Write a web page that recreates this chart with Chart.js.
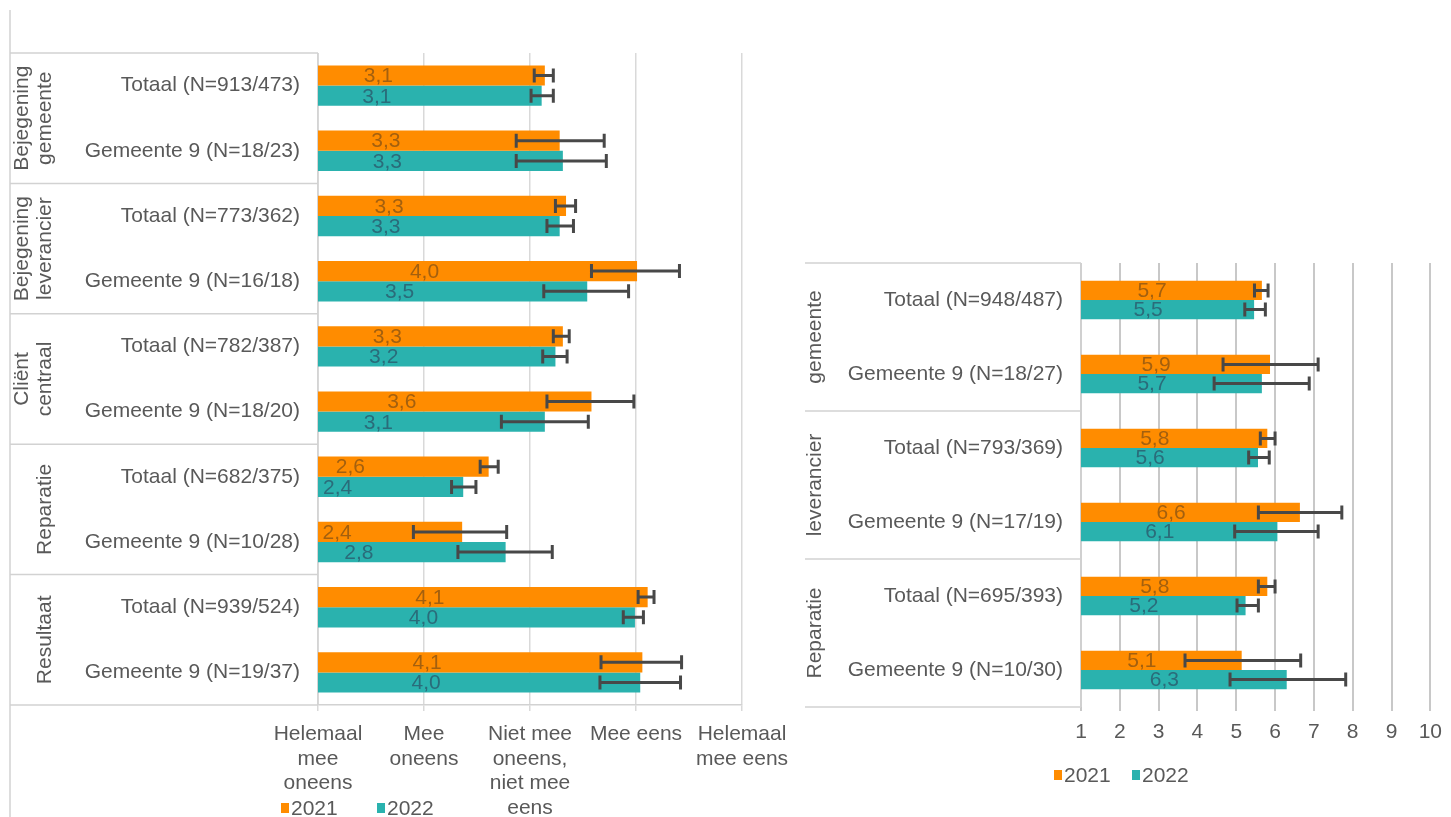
<!DOCTYPE html>
<html>
<head>
<meta charset="utf-8">
<script src="https://cdn.jsdelivr.net/npm/chart.js@4.4.1/dist/chart.umd.min.js"></script>
<style>
  body { margin: 0; background: #fff; }
  #wrap { position: relative; width: 1451px; height: 817px; overflow: hidden; }
  #left { position: absolute; left: 0; top: 0; }
  #rightBox { position: absolute; left: 805px; top: 240px; width: 646px; height: 577px; overflow: hidden; }
  #right { position: absolute; left: -60px; top: 0; }
</style>
</head>
<body>
<div id="wrap">
  <canvas id="left" width="800" height="817"></canvas>
  <div id="rightBox"><canvas id="right" width="706" height="577"></canvas></div>
</div>
<script>
// --- data: left chart (stellingen, schaal 1-5) ---
const leftCategories = [
  'Totaal (N=913/473)', 'Gemeente 9 (N=18/23)',
  'Totaal (N=773/362)', 'Gemeente 9 (N=16/18)',
  'Totaal (N=782/387)', 'Gemeente 9 (N=18/20)',
  'Totaal (N=682/375)', 'Gemeente 9 (N=10/28)',
  'Totaal (N=939/524)', 'Gemeente 9 (N=19/37)',
];
const leftGroups = [
  ['Bejegening', 'gemeente'],
  ['Bejegening', 'leverancier'],
  ['Cliënt', 'centraal'],
  ['Reparatie'],
  ['Resultaat'],
];
const leftScaleLabels = [
  ['Helemaal', 'mee', 'oneens'],
  ['Mee', 'oneens'],
  ['Niet mee', 'oneens,', 'niet mee', 'eens'],
  ['Mee eens'],
  ['Helemaal', 'mee eens'],
];
const left2021 = [3.14, 3.28, 3.34, 4.01, 3.31, 3.58, 2.61, 2.36, 4.11, 4.06];
const left2022 = [3.11, 3.31, 3.28, 3.54, 3.24, 3.14, 2.37, 2.77, 3.99, 4.04];
const left2021Low  = [3.04, 2.87, 3.24, 3.58, 3.22, 3.16, 2.53, 1.90, 4.02, 3.67];
const left2021High = [3.22, 3.70, 3.43, 4.41, 3.37, 3.98, 2.70, 2.78, 4.17, 4.43];
const left2022Low  = [3.01, 2.87, 3.16, 3.13, 3.12, 2.73, 2.26, 2.32, 3.88, 3.66];
const left2022High = [3.22, 3.72, 3.41, 3.93, 3.35, 3.55, 2.49, 3.21, 4.07, 4.42];

// --- data: right chart (rapportcijfers 1-10) ---
const rightCategories = [
  'Totaal (N=948/487)', 'Gemeente 9 (N=18/27)',
  'Totaal (N=793/369)', 'Gemeente 9 (N=17/19)',
  'Totaal (N=695/393)', 'Gemeente 9 (N=10/30)',
];
const rightGroups = [
  ['Bejegening', 'gemeente'],
  ['Bejegening', 'leverancier'],
  ['Reparatie'],
];
const right2021 = [5.66, 5.87, 5.80, 6.64, 5.80, 5.14];
const right2022 = [5.46, 5.66, 5.56, 6.06, 5.24, 6.30];
const right2021Low  = [5.47, 4.66, 5.62, 5.57, 5.57, 3.68];
const right2021High = [5.82, 7.11, 6.00, 7.72, 6.00, 6.66];
const right2022Low  = [5.22, 4.43, 5.32, 4.96, 5.02, 4.84];
const right2022High = [5.75, 6.88, 5.85, 7.11, 5.57, 7.82];

const years = ['2021', '2022'];

const C = {
  orange: '#FF8C00',
  teal: '#2AB2AE',
  orangeText: '#a4600e',
  tealText: '#2a6c7a',
  err: '#484848',
  text: '#595959',
  line: '#d2d2d2',
};
const FONT = "'Liberation Sans', Arial, sans-serif";

// table lines, rotated group labels, value labels, error bars and legend
const tablePlugin = {
  id: 'table',
  beforeDatasetsDraw(chart, args, o) {
    const ctx = chart.ctx, a = chart.chartArea;
    const n = chart.data.labels.length;
    const step = (a.bottom - a.top) / n;
    ctx.save();
    ctx.strokeStyle = C.line;
    ctx.lineWidth = 1.5;
    ctx.beginPath();
    ctx.moveTo(o.tableLeft, o.borderTop != null ? o.borderTop : a.top);
    ctx.lineTo(o.tableLeft, o.borderBottom != null ? o.borderBottom : a.bottom);
    let row = 0;
    const ys = [a.top];
    o.groups.forEach(() => { row += o.groupSize; ys.push(a.top + row * step); });
    ys.forEach(y => { ctx.moveTo(o.tableLeft, y); ctx.lineTo(a.left, y); });
    ctx.moveTo(a.left, a.top); ctx.lineTo(a.left, a.bottom);
    ctx.stroke();

    ctx.fillStyle = C.text;
    ctx.font = '21px ' + FONT;
    ctx.textAlign = 'center';
    ctx.textBaseline = 'middle';
    o.groups.forEach((g, i) => {
      const cy = a.top + (i * o.groupSize + o.groupSize / 2) * step;
      g.forEach((t, k) => {
        const x = o.tableLeft + o.lastLine - (g.length - 1 - k) * 23;
        ctx.save();
        ctx.translate(x, cy);
        ctx.rotate(-Math.PI / 2);
        ctx.fillText(t, 0, 0);
        ctx.restore();
      });
    });
    ctx.restore();
  },
  afterDatasetsDraw(chart, args, o) {
    const ctx = chart.ctx, xs = chart.scales.x;
    ctx.save();
    chart.data.datasets.forEach((ds, d) => {
      const meta = chart.getDatasetMeta(d);
      meta.data.forEach((bar, i) => {
        ctx.fillStyle = ds.labelColor;
        ctx.font = '21px ' + FONT;
        ctx.textAlign = 'center';
        ctx.textBaseline = 'middle';
        ctx.fillText(ds.data[i].toFixed(1).replace('.', ','), (bar.x + bar.base) / 2, bar.y + 1);

        const x1 = xs.getPixelForValue(ds.errLow[i]);
        const x2 = xs.getPixelForValue(ds.errHigh[i]);
        ctx.strokeStyle = C.err;
        ctx.lineWidth = 3;
        ctx.beginPath();
        ctx.moveTo(x1, bar.y); ctx.lineTo(x2, bar.y);
        ctx.moveTo(x1, bar.y - 7); ctx.lineTo(x1, bar.y + 7);
        ctx.moveTo(x2, bar.y - 7); ctx.lineTo(x2, bar.y + 7);
        ctx.stroke();
      });
      const L = o.legend[d];
      ctx.fillStyle = ds.backgroundColor;
      ctx.fillRect(L.x, L.y - 5, 8, 10);
      ctx.fillStyle = C.text;
      ctx.font = '21px ' + FONT;
      ctx.textAlign = 'left';
      ctx.textBaseline = 'middle';
      ctx.fillText(ds.label, L.x + 10, L.y + 1);
    });
    ctx.restore();
  },
};

function makeDatasets(v1, v2, lo1, hi1, lo2, hi2) {
  return [
    { label: years[0], data: v1, errLow: lo1, errHigh: hi1, backgroundColor: C.orange, labelColor: C.orangeText },
    { label: years[1], data: v2, errLow: lo2, errHigh: hi2, backgroundColor: C.teal, labelColor: C.tealText },
  ];
}

// fixed label column width, no extra label padding above/below the plot
const fixY = w => s => { s.width = w; s.paddingTop = 0; s.paddingBottom = 0; };

new Chart(document.getElementById('left'), {
  type: 'bar',
  data: {
    labels: leftCategories,
    datasets: makeDatasets(left2021, left2022, left2021Low, left2021High, left2022Low, left2022High),
  },
  plugins: [tablePlugin],
  options: {
    indexAxis: 'y',
    responsive: false,
    animation: false,
    categoryPercentage: 0.62,
    barPercentage: 1.0,
    layout: { padding: { top: 53, right: 58, left: 0, bottom: 0 } },
    plugins: {
      legend: { display: false },
      tooltip: { enabled: false },
      table: {
        tableLeft: 10, lastLine: 35, groups: leftGroups, groupSize: 2,
        borderTop: 10, borderBottom: 817,
        legend: [{ x: 281, y: 808 }, { x: 377, y: 808 }],
      },
    },
    scales: {
      x: {
        min: 1, max: 5,
        afterFit: s => { s.height = 112; },
        ticks: {
          stepSize: 1, autoSkip: false, maxRotation: 0, padding: 11,
          color: C.text, font: { family: FONT, size: 21, lineHeight: 1.17 },
          callback: v => leftScaleLabels[v - 1],
        },
        grid: { color: '#d9d9d9', lineWidth: 1.5, tickLength: 6 },
        border: { display: true, color: C.line, width: 1.5 },
      },
      y: {
        afterFit: fixY(318),
        ticks: { autoSkip: false, padding: 18, color: C.text, font: { family: FONT, size: 21 } },
        grid: { display: false, drawTicks: false },
        border: { display: false },
      },
    },
  },
});

new Chart(document.getElementById('right'), {
  type: 'bar',
  data: {
    labels: rightCategories,
    datasets: makeDatasets(right2021, right2022, right2021Low, right2021High, right2022Low, right2022High),
  },
  plugins: [tablePlugin],
  options: {
    indexAxis: 'y',
    responsive: false,
    animation: false,
    categoryPercentage: 0.52,
    barPercentage: 1.0,
    layout: { padding: { top: 23, right: 13, left: 0, bottom: 0 } },
    plugins: {
      legend: { display: false },
      tooltip: { enabled: false },
      table: {
        tableLeft: 34, lastLine: 36, groups: rightGroups, groupSize: 2,
        legend: [{ x: 309, y: 535 }, { x: 387, y: 535 }],
      },
    },
    scales: {
      x: {
        min: 1, max: 10,
        afterFit: s => { s.height = 110; },
        ticks: {
          stepSize: 1, autoSkip: false, maxRotation: 0, padding: 9,
          color: C.text, font: { family: FONT, size: 21, lineHeight: 1.17 },
        },
        grid: { color: '#c8c8c8', lineWidth: 2, tickLength: 4 },
        border: { display: false },
      },
      y: {
        afterFit: fixY(336),
        ticks: { autoSkip: false, padding: 18, color: C.text, font: { family: FONT, size: 21 } },
        grid: { display: false, drawTicks: false },
        border: { display: false },
      },
    },
  },
});
</script>
</body>
</html>
